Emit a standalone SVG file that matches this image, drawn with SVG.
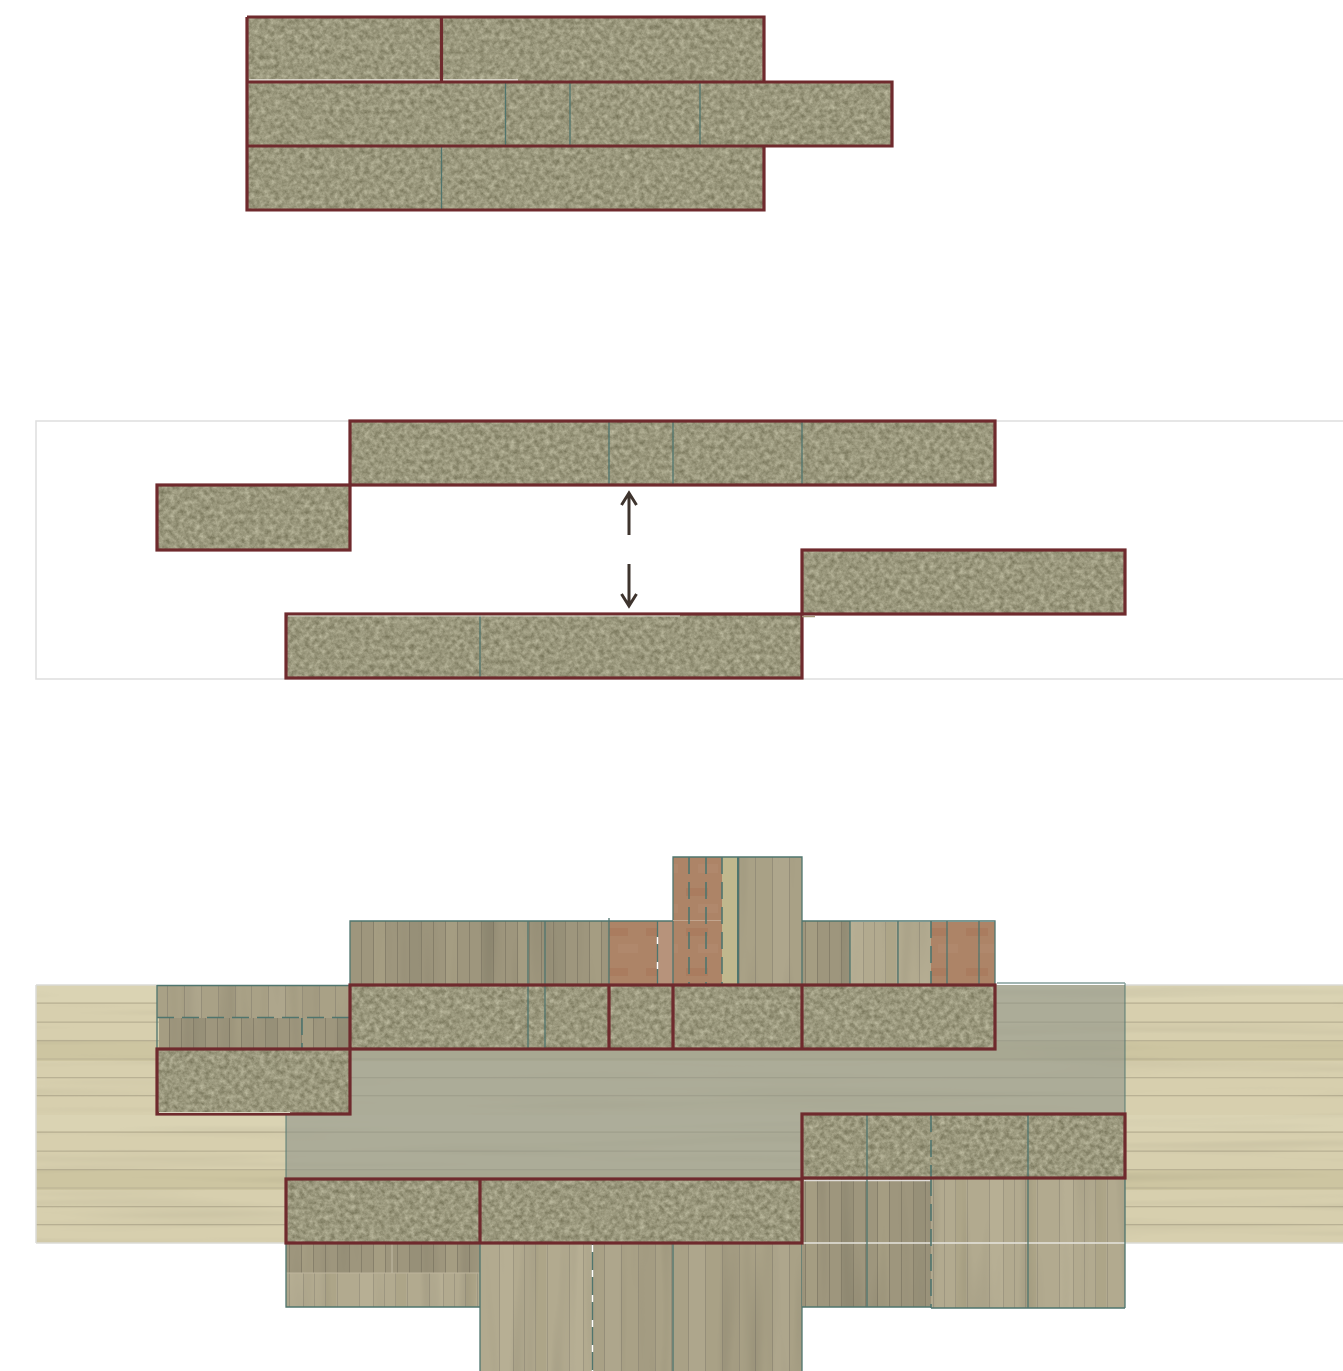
<svg xmlns="http://www.w3.org/2000/svg" width="1343" height="1371" viewBox="0 0 1343 1371">
<style>
.stone{filter:url(#stoneFx)}
.red{fill:none;stroke:#6f2a2d;stroke-width:3.2;stroke-linejoin:miter}
.redl{stroke:#6f2a2d;stroke-width:3.2;fill:none}
.teal{stroke:#4f756e;stroke-width:1.3;fill:none}
.dash{stroke:#4f756e;stroke-width:1.6;fill:none;stroke-dasharray:17 8}
.wh{stroke:#e8e6df;stroke-width:1.5;fill:none}
.arrow{stroke:#3e342e;stroke-width:3;fill:none;stroke-linejoin:miter}
.wv{filter:url(#grainV)}
.wh2{filter:url(#grainH)}
</style>
<defs>
<filter id="stoneFx" x="0" y="0" width="1" height="1" color-interpolation-filters="sRGB">
<feTurbulence type="fractalNoise" baseFrequency="0.2" numOctaves="4" seed="7"/>
<feColorMatrix values="0.34 0 0 0 0.435  0.34 0 0 0 0.425  0.34 0 0 0 0.32  0 0 0 0 1"/>
</filter>
<filter id="grainV" x="0" y="0" width="1" height="1" color-interpolation-filters="sRGB">
<feTurbulence type="fractalNoise" baseFrequency="0.05 0.004" numOctaves="2" seed="4"/>
<feColorMatrix values="0.2 0 0 0 0.9  0.2 0 0 0 0.9  0.2 0 0 0 0.9  0 0 0 0 1" result="n"/>
<feBlend mode="multiply" in="SourceGraphic" in2="n"/>
<feComposite in2="SourceAlpha" operator="in"/>
</filter>
<filter id="grainH" x="0" y="0" width="1" height="1" color-interpolation-filters="sRGB">
<feTurbulence type="fractalNoise" baseFrequency="0.003 0.08" numOctaves="2" seed="9"/>
<feColorMatrix values="0.14 0 0 0 0.93  0.14 0 0 0 0.93  0.14 0 0 0 0.93  0 0 0 0 1" result="n"/>
<feBlend mode="multiply" in="SourceGraphic" in2="n"/>
<feComposite in2="SourceAlpha" operator="in"/>
</filter>
<pattern id="floor" patternUnits="userSpaceOnUse" x="0" y="985" width="400" height="129">
<rect width="400" height="129" fill="#d7cfae"/>
<rect y="56" width="400" height="20" fill="#cdc5a1"/>
<rect y="1" width="400" height="16" fill="#dad3b3"/>
<g fill="#b9b194">
<rect y="17.5" width="400" height="1.3"/><rect y="36.5" width="400" height="1.3"/><rect y="55" width="400" height="1.3"/><rect y="73.5" width="400" height="1"/><rect y="92" width="400" height="1.3"/><rect y="110" width="400" height="1.3"/>
</g>
</pattern>
<pattern id="wood" patternUnits="userSpaceOnUse" x="0" y="0" width="84" height="400">
<rect width="84" height="400" fill="#a9a186"/>
<rect x="17" width="17" height="400" fill="#aea68c"/><rect x="51" width="17" height="400" fill="#a49c82"/>
<g fill="#958e79"><rect x="16" width="1" height="400"/><rect x="33" width="1" height="400"/><rect x="50" width="1" height="400"/><rect x="67" width="1" height="400"/><rect x="83" width="1" height="400"/></g>
</pattern>
<pattern id="woodDark" patternUnits="userSpaceOnUse" x="2" y="0" width="72" height="400">
<rect width="72" height="400" fill="#9e967d"/>
<rect x="12" width="12" height="400" fill="#a59d82"/><rect x="48" width="12" height="400" fill="#979078"/>
<g fill="#87806b"><rect x="11" width="1" height="400"/><rect x="23" width="1" height="400"/><rect x="35" width="1" height="400"/><rect x="47" width="1" height="400"/><rect x="59" width="1" height="400"/><rect x="71" width="1" height="400"/></g>
</pattern>
<pattern id="woodLight" patternUnits="userSpaceOnUse" x="0" y="0" width="70" height="400">
<rect width="70" height="400" fill="#b2aa8f"/>
<rect x="10" width="14" height="400" fill="#b7af94"/><rect x="46" width="10" height="400" fill="#ada588"/>
<g fill="#9e9781"><rect x="9" width="1" height="400"/><rect x="23" width="1" height="400"/><rect x="34" width="1" height="400"/><rect x="45" width="1" height="400"/><rect x="57" width="1" height="400"/></g>
</pattern>
<pattern id="brick" patternUnits="userSpaceOnUse" x="0" y="0" width="40" height="40">
<rect width="40" height="40" fill="#ad8467"/>
<rect x="6" y="8" width="22" height="8" fill="#aa7c5f"/><rect x="18" y="24" width="20" height="9" fill="#b0886c"/>
</pattern>
</defs>

<rect width="1343" height="1371" fill="#ffffff"/>

<g id="plan-top">
<rect class="stone" x="247" y="17" width="517" height="193"/>
<rect class="stone" x="764" y="82" width="128" height="64"/>
<path d="M249 80H518" stroke="#ece9e2" stroke-width="1.500" fill="none"/>
<path class="teal" d="M505.500 83V146M570 83V146M700 83V146M441.500 147V210"/>
<path class="red" d="M247 17H764V82M247 82H892V146H247M764 146V210H247V17M441.500 17V81"/>
</g>

<g id="plan-middle">
<rect x="36" y="421" width="1320" height="258" fill="none" stroke="#dedede" stroke-width="1.500"/>
<g id="middle-upper">
<rect class="stone" x="350" y="421" width="645" height="64"/>
<path class="teal" d="M609 421V485M673 421V485M802 421V485"/>
<rect class="red" x="350" y="421" width="645" height="64"/>
</g>
<g id="middle-left">
<rect class="stone" x="157" y="485" width="193" height="65"/>
<rect class="red" x="157" y="485" width="193" height="65"/>
</g>
<g id="middle-right">
<rect class="stone" x="802" y="550" width="323" height="64"/>
<rect class="red" x="802" y="550" width="323" height="64"/>
</g>
<g id="middle-lower">
<rect class="stone" x="286" y="614" width="516" height="64"/>
<path class="teal" d="M480 615V678"/>
<rect class="red" x="286" y="614" width="516" height="64"/>
<path d="M288 616H680" stroke="#d9d6cc" stroke-width="1.200"/>
<path d="M802 616.500H815" stroke="#a39677" stroke-width="1.500"/>
</g>
<g id="connectors">
<path class="arrow" d="M629 535V493M621.500 505L629 493L636.500 505"/>
<path class="arrow" d="M629 564V606M621.500 594L629 606L636.500 594"/>
</g>
</g>

<g id="plan-bottom">
<g id="floor-slabs">
<rect class="wh2" x="36" y="985" width="1307" height="258" fill="url(#floor)"/>
<path d="M36 985H157M36 1243H286M1125 1243H1343M1125 985H1343M36 985V1243" stroke="#dcdcd6" stroke-width="1.500" fill="none"/>
<path d="M995 985H1125V1049H995ZM286 1049H1125V1179H286Z" fill="#8f9488" fill-opacity=".6"/>
<path class="teal" d="M286 1114V1180M1125 983V1114M997 983H1125" stroke-opacity=".7"/>
</g>

<g id="upper-wall">
<rect class="wv" x="350" y="921" width="259" height="64" fill="url(#woodDark)"/>
<rect x="609" y="921" width="49" height="64" fill="url(#brick)"/>
<rect x="658" y="921" width="15" height="64" fill="#b7937b"/>
<rect x="673" y="857" width="49" height="128" fill="url(#brick)"/>
<rect x="722" y="857" width="16" height="128" fill="#c0b88e"/>
<rect class="wv" x="738" y="857" width="64" height="128" fill="url(#wood)"/>
<rect class="wv" x="802" y="921" width="48" height="64" fill="url(#woodDark)"/>
<rect class="wv" x="850" y="922" width="81" height="63" fill="url(#woodLight)"/>
<rect x="931" y="922" width="64" height="63" fill="url(#brick)"/>
<path class="teal" d="M350 985V921H673M802 921H995V985M528 921V985M545 921V985M673 985V857H802V985M850 921V985M898 921V985M947 921V985M979 921V985M609 918V985"/>
<path d="M738 857V985" stroke="#4f756e" stroke-width="2" fill="none"/>
<path d="M673 920.500H722" stroke="#c2a58e" stroke-width="1"/>
<path d="M657.500 921V985" stroke="#4f756e" stroke-width="1.300"/>
<path d="M657.500 937V944M657.500 962V969" stroke="#ffffff" stroke-width="1.500"/>
<path class="dash" d="M689 857V985M706 857V985M722 857V985M931 921V985"/>
</g>

<g id="left-wall">
<rect class="wv" x="157" y="985" width="193" height="33" fill="url(#wood)"/>
<rect class="wv" x="159" y="1018" width="191" height="31" fill="url(#woodDark)"/>
<path class="teal" d="M157 985.500H350M157 985V1049"/>
<path class="dash" d="M157 1017.500H350M302 1018V1049" stroke-dasharray="14 11"/>
</g>

<g id="lower-left-wall">
<rect class="wv" x="286" y="1243" width="194" height="30" fill="url(#woodDark)"/>
<rect class="wv" x="286" y="1273" width="194" height="34" fill="url(#woodLight)"/>
<path d="M286 1273H480" stroke="#bdb49c" stroke-width="1"/>
<path d="M392 1243V1273" stroke="#c2bba5" stroke-width="1"/>
<path class="teal" d="M286 1243V1307H480"/>
</g>

<g id="lower-mid-wall">
<rect class="wv" x="480" y="1243" width="113" height="128" fill="url(#woodLight)"/>
<rect class="wv" x="593" y="1243" width="80" height="128" fill="url(#wood)"/>
<rect class="wv" x="673" y="1243" width="129" height="128" fill="url(#wood)"/>
<path class="teal" d="M480 1243V1371M592.500 1243V1371M673 1243V1371M802 1179V1371"/>
<path d="M592.500 1245V1371" stroke="#ffffff" stroke-width="1.500" stroke-dasharray="7 18"/>
</g>

<g id="lower-right-wall">
<rect class="wv" x="802" y="1179" width="129" height="128" fill="url(#woodDark)"/>
<rect class="wv" x="931" y="1179" width="194" height="129" fill="url(#woodLight)"/>
<path d="M803 1243H1125" stroke="#e6e4de" stroke-width="1.500"/>
<path d="M804 1180.500H931" stroke="#e0dcd8" stroke-width="1.500"/>
<path class="teal" d="M867 1179V1307M1028 1179V1308M1125 1179V1308M802 1307H931M931 1308H1125"/>
<path class="dash" d="M931 1179V1308"/>
</g>

<g id="stone-row-upper">
<rect class="stone" x="350" y="985" width="645" height="64"/>
<path class="teal" d="M528 986V1049M545 986V1049"/>
<rect class="red" x="350" y="985" width="645" height="64"/>
<path class="redl" d="M609 985V1049M673 985V1049M802 985V1049"/>
</g>
<g id="stone-left">
<rect class="stone" x="157" y="1049" width="193" height="65"/>
<rect class="red" x="157" y="1049" width="193" height="65"/>
<path d="M159 1112.500H290" stroke="#d9d3c0" stroke-width="1"/>
</g>
<g id="stone-right">
<rect class="stone" x="802" y="1114" width="323" height="64"/>
<path class="teal" d="M867 1115V1178M1028 1115V1178"/>
<path class="dash" d="M931 1115V1178"/>
<rect class="red" x="802" y="1114" width="323" height="64"/>
</g>
<g id="stone-lower">
<rect class="stone" x="286" y="1179" width="516" height="64"/>
<rect class="red" x="286" y="1179" width="516" height="64"/>
<path class="redl" d="M480 1179V1243"/>
</g>
</g>
</svg>
